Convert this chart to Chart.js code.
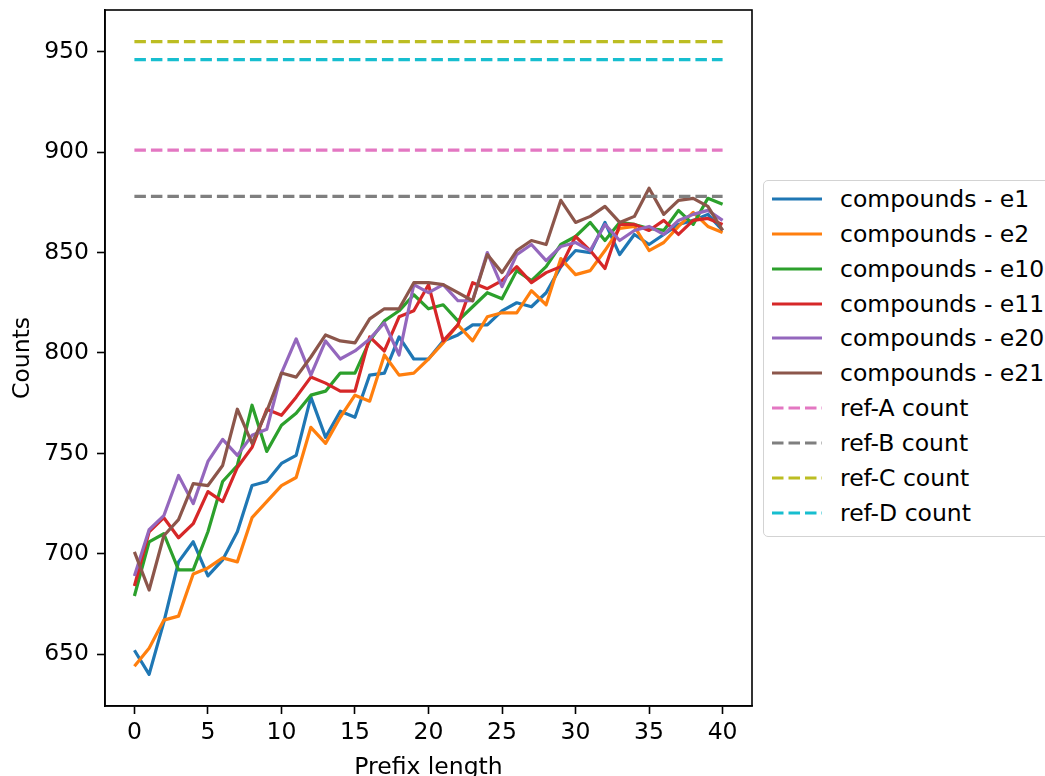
<!DOCTYPE html>
<html>
<head>
<meta charset="utf-8">
<script src="https://cdn.jsdelivr.net/npm/chart.js@4.4.0/dist/chart.umd.min.js"></script>
<style>
    html, body { margin: 0; padding: 0; background: #fff; overflow: hidden; }
    #wrap { position: relative; width: 1045px; height: 776px; }
    #legend {
        position: absolute; left: 763px; top: 180px; width: 300px; height: 357px;
        border: 1.5px solid #d3d3d3; border-radius: 5px; box-sizing: border-box;
        font-family: "DejaVu Sans", sans-serif; font-size: 23.5px; color: #000; background: #fff;
    }
    .legend-row { position: absolute; left: 0; height: 34px; line-height: 34px; white-space: nowrap; }
    .legend-row svg { position: absolute; left: 7px; top: 0; }
    .legend-row span { position: absolute; left: 76px; top: 0; }
</style>
</head>
<body>
<div id="wrap">
    <canvas id="chart" width="1045" height="776"></canvas>
    <div id="legend"></div>
</div>
<script>
// Data
const prefixLengths = [0, 1, 2, 3, 4, 5, 6, 7, 8, 9, 10, 11, 12, 13, 14, 15, 16, 17, 18, 19, 20,
    21, 22, 23, 24, 25, 26, 27, 28, 29, 30, 31, 32, 33, 34, 35, 36, 37, 38, 39, 40];

const e1 = [652, 640, 666, 696, 706, 689, 697, 711, 734, 736, 745, 749, 778, 758, 771, 768, 789, 790, 808, 797, 797,
    806, 809, 814, 814, 821, 825, 823, 830, 843, 851, 850, 865, 849, 859, 854, 859, 864, 866, 869, 861];
const e2 = [644, 653, 667, 669, 690, 693, 698, 696, 718, 726, 734, 738, 763, 755, 768, 779, 776, 799, 789, 790, 797,
    805, 814, 806, 818, 820, 820, 831, 824, 847, 839, 841, 851, 862, 863, 851, 855, 863, 870, 863, 860];
const e10 = [679, 706, 710, 692, 692, 711, 736, 744, 774, 751, 764, 770, 779, 781, 790, 790, 806, 816, 821, 829, 822,
    824, 816, 823, 830, 827, 841, 836, 843, 854, 858, 865, 856, 865, 864, 862, 861, 871, 864, 877, 874];
const e11 = [684, 711, 718, 708, 715, 731, 726, 743, 753, 772, 769, 778, 788, 785, 781, 781, 808, 801, 818, 821, 834,
    806, 814, 835, 832, 836, 843, 835, 840, 843, 858, 851, 842, 864, 864, 861, 866, 859, 866, 867, 864];
const e20 = [689, 712, 719, 739, 725, 746, 757, 749, 759, 762, 790, 807, 789, 806, 797, 801, 807, 815, 799, 834, 830,
    834, 826, 826, 850, 833, 849, 854, 846, 853, 855, 851, 864, 856, 861, 863, 859, 866, 869, 871, 866];
const e21 = [701, 682, 709, 717, 735, 734, 744, 772, 755, 771, 790, 788, 798, 809, 806, 805, 817, 822, 822, 835, 835,
    834, 830, 826, 849, 840, 851, 856, 854, 876, 865, 868, 873, 865, 868, 882, 869, 876, 877, 873, 861];

const refA = 901;
const refB = 878;
const refC = 955;
const refD = 946;

const xTicks = [0, 5, 10, 15, 20, 25, 30, 35, 40];
const yTicks = [650, 700, 750, 800, 850, 900, 950];

const FONT = { family: 'DejaVu Sans', size: 23.5 };

function toPoints(values) {
    return values.map((v, i) => ({ x: prefixLengths[i], y: v }));
}

function refPoints(value) {
    const first = prefixLengths[0];
    const last = prefixLengths[prefixLengths.length - 1];
    return [{ x: first, y: value }, { x: last, y: value }];
}

const seriesDefs = [
    { label: 'compounds - e1', data: toPoints(e1), color: '#1f77b4', dashed: false },
    { label: 'compounds - e2', data: toPoints(e2), color: '#ff7f0e', dashed: false },
    { label: 'compounds - e10', data: toPoints(e10), color: '#2ca02c', dashed: false },
    { label: 'compounds - e11', data: toPoints(e11), color: '#d62728', dashed: false },
    { label: 'compounds - e20', data: toPoints(e20), color: '#9467bd', dashed: false },
    { label: 'compounds - e21', data: toPoints(e21), color: '#8c564b', dashed: false },
    { label: 'ref-A count', data: refPoints(refA), color: '#e377c2', dashed: true },
    { label: 'ref-B count', data: refPoints(refB), color: '#7f7f7f', dashed: true },
    { label: 'ref-C count', data: refPoints(refC), color: '#bcbd22', dashed: true },
    { label: 'ref-D count', data: refPoints(refD), color: '#17becf', dashed: true }
];

const DASH = [11.5, 5];

const datasets = seriesDefs.map((s, i) => ({
    label: s.label,
    data: s.data,
    borderColor: s.color,
    backgroundColor: s.color,
    borderWidth: 3.2,
    borderDash: s.dashed ? DASH : [],
    borderJoinStyle: 'round',
    pointRadius: 0,
    tension: 0,
    fill: false,
    order: seriesDefs.length - i   // later series drawn on top, like matplotlib
}));

// Axes frame (all four spines)
const framePlugin = {
    id: 'frame',
    afterDatasetsDraw(chart) {
        const { ctx, chartArea } = chart;
        ctx.save();
        ctx.strokeStyle = '#000';
        ctx.lineWidth = 1.6;
        ctx.strokeRect(chartArea.left, chartArea.top,
            chartArea.right - chartArea.left, chartArea.bottom - chartArea.top);
        ctx.restore();
    }
};

// HTML legend built from the chart's datasets
const htmlLegendPlugin = {
    id: 'htmlLegend',
    afterUpdate(chart) {
        const box = document.getElementById('legend');
        box.innerHTML = '';
        chart.data.datasets.forEach((ds, i) => {
            const row = document.createElement('div');
            row.className = 'legend-row';
            row.style.top = (19.3 + 34.9 * i - 17 - 1.5) + 'px';
            const dash = ds.borderDash && ds.borderDash.length ? ds.borderDash.join(' ') : 'none';
            row.innerHTML =
                '<svg width="52" height="34"><line x1="1" y1="17" x2="51" y2="17" stroke="' + ds.borderColor +
                '" stroke-width="3.2" stroke-dasharray="' + dash + '"/></svg>' +
                '<span>' + ds.label + '</span>';
            box.appendChild(row);
        });
    }
};

const ctx = document.getElementById('chart').getContext('2d');
new Chart(ctx, {
    type: 'line',
    data: { datasets: datasets },
    options: {
        responsive: false,
        animation: false,
        devicePixelRatio: 1,
        layout: { padding: { left: 0, top: 10, right: 293, bottom: 0 } },
        plugins: {
            legend: { display: false },
            tooltip: { enabled: false }
        },
        scales: {
            x: {
                type: 'linear',
                min: -2,
                max: 42,
                afterBuildTicks: scale => { scale.ticks = xTicks.map(v => ({ value: v })); },
                afterFit: scale => { scale.height = 70; scale.paddingLeft = 0; scale.paddingRight = 0; },
                ticks: { font: FONT, color: '#000', padding: 5, maxRotation: 0 },
                grid: { drawOnChartArea: false, drawTicks: true, tickLength: 8, tickWidth: 1.6, tickColor: '#000' },
                border: { display: true, color: '#000', width: 1.6 },
                title: { display: true, text: 'Prefix length', font: FONT, color: '#000', padding: { top: 0, bottom: -6 } }
            },
            y: {
                type: 'linear',
                min: 624.25,
                max: 970.75,
                afterBuildTicks: scale => { scale.ticks = yTicks.map(v => ({ value: v })); },
                afterFit: scale => { scale.width = 105; scale.paddingTop = 0; scale.paddingBottom = 0; },
                ticks: { font: FONT, color: '#000', padding: 8 },
                grid: { drawOnChartArea: false, drawTicks: true, tickLength: 8, tickWidth: 1.6, tickColor: '#000' },
                border: { display: true, color: '#000', width: 1.6 },
                title: { display: true, text: 'Counts', font: FONT, color: '#000', padding: { top: 9, bottom: 0 } }
            }
        }
    },
    plugins: [framePlugin, htmlLegendPlugin]
});
</script>
</body>
</html>
